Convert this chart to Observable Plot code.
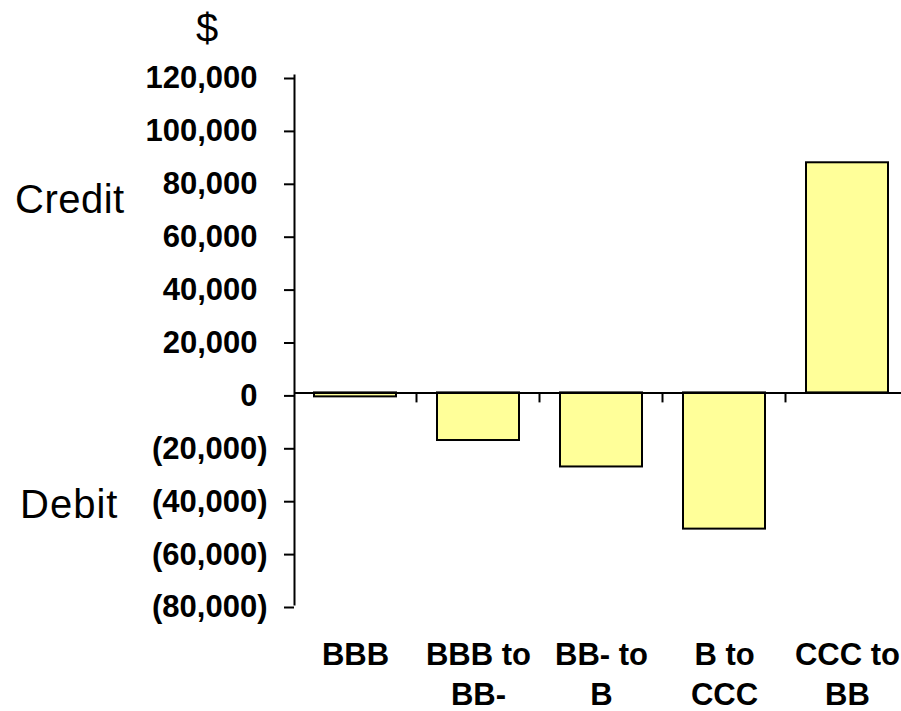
<!DOCTYPE html>
<html>
<head>
<meta charset="utf-8">
<script src="https://cdn.jsdelivr.net/npm/d3@7"></script>
<script src="https://cdn.jsdelivr.net/npm/@observablehq/plot@0.6"></script>
<style>
  html, body { margin: 0; padding: 0; background: #fff; overflow: hidden; }
  #wrap { position: relative; width: 901px; height: 711px; font-family: "Liberation Sans", Arial, sans-serif; }
  .side { position: absolute; font-size: 40px; letter-spacing: 1px; line-height: 1; color: #000; white-space: nowrap; }
  #credit { left: 15px; top: 179px; letter-spacing: 0.5px; }
  #debit { left: 20px; top: 484px; }
  #dollar { left: 196px; top: 8px; letter-spacing: 0; }
</style>
</head>
<body>
<div id="wrap">
  <div id="chart"></div>
  <div class="side" id="dollar">$</div>
  <div class="side" id="credit">Credit</div>
  <div class="side" id="debit">Debit</div>
</div>
<script>
// Rating migration categories and their profit / loss in dollars
const categories = ["BBB", "BBB to BB-", "BB- to B", "B to CCC", "CCC to BB"];
const categoryLabels = ["BBB", "BBB to\nBB-", "BB- to\nB", "B to\nCCC", "CCC to\nBB"];
const values = [-1500, -18000, -28000, -51500, 87000];
const yTicks = [-80000, -60000, -40000, -20000, 0, 20000, 40000, 60000, 80000, 100000, 120000];

const data = categories.map((c, i) => ({category: c, value: values[i], label: categoryLabels[i]}));

const fmt = d3.format(",");
const tickFormat = d => d < 0 ? `(${fmt(-d)})` : fmt(d);

// Small tick marks on the zero line, between adjacent categories
const boundaryTicks = (index, {x, y}) => {
  const g = d3.create("svg:g").attr("stroke", "#000").attr("stroke-width", 2);
  const bw = typeof x.bandwidth === "function" ? x.bandwidth() : x.bandwidth;
  const step = typeof x.step === "function" ? x.step() : x.step;
  const y0 = y(0);
  for (const c of categories) {
    const xb = x(c) + bw + (step - bw) / 2;
    g.append("line").attr("x1", xb).attr("x2", xb).attr("y1", y0).attr("y2", y0 + 10);
  }
  return g.node();
};

const chart = Plot.plot({
  width: 901,
  height: 711,
  marginLeft: 294,
  marginRight: 0,
  marginTop: 75,
  marginBottom: 107,
  style: {
    fontFamily: "Liberation Sans, Arial, sans-serif",
    fontSize: "31px",
    fontWeight: "bold",
    background: "#fff",
    color: "#000"
  },
  x: {domain: categories, range: [294, 909], paddingInner: 0.33, paddingOuter: 0.165, align: 0.5, axis: null},
  y: {domain: [-80000, 120000], range: [604, 75], axis: null},
  marks: [
    Plot.barY(data, {x: "category", y: "value", fill: "#FFFF99", stroke: "#000", strokeWidth: 2}),
    Plot.ruleY([0], {stroke: "#000", strokeWidth: 2}),
    boundaryTicks,
    Plot.frame({anchor: "left", stroke: "#000", strokeWidth: 2}),
    Plot.axisY(yTicks.filter(d => d >= 0), {
      label: null, tickSize: 10, tickPadding: 27, tickFormat, strokeWidth: 2,
      fontSize: 31, fontWeight: "bold", dy: 3, fill: "#000", stroke: "#000"
    }),
    Plot.axisY(yTicks.filter(d => d < 0), {
      label: null, tickSize: 10, tickPadding: 17, tickFormat, strokeWidth: 2,
      fontSize: 31, fontWeight: "bold", dy: 3, fill: "#000", stroke: "#000"
    }),
    Plot.text(data, {
      x: "category", text: "label", frameAnchor: "bottom", lineAnchor: "top",
      dy: 32, lineHeight: 1.29, fontSize: 31, fontWeight: "bold", fill: "#000"
    })
  ]
});

document.getElementById("chart").appendChild(chart);
</script>
</body>
</html>
